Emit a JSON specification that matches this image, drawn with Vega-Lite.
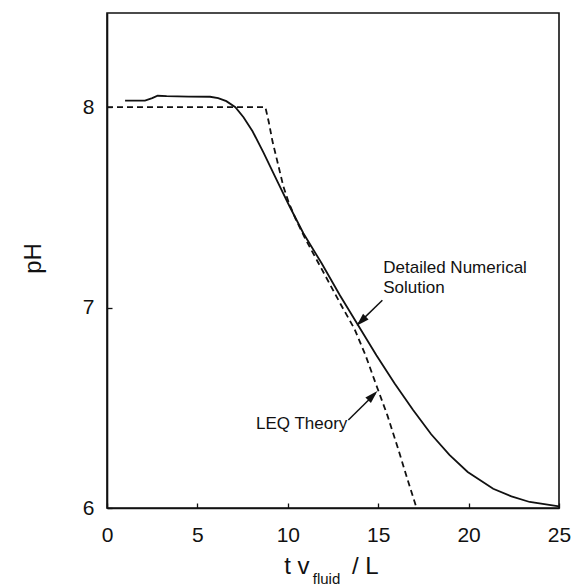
{
  "$schema": "https://vega.github.io/schema/vega-lite/v6.json",
  "width": 452,
  "height": 495,
  "autosize": {"type": "none"},
  "padding": {"left": 107, "top": 13, "right": 15, "bottom": 80},
  "background": "white",
  "config": {
    "view": {"stroke": "#111", "strokeWidth": 1.6},
    "font": "Liberation Sans",
    "axis": {"grid": false, "domainColor": "#111", "domainWidth": 1.6, "tickColor": "#111", "tickWidth": 1.3, "labelColor": "#111", "titleColor": "#111", "labelFont": "Liberation Sans", "titleFont": "Liberation Sans"}
  },
  "datasets": {
    "numerical": [
      {"x": 1.0, "y": 8.033}, {"x": 2.1, "y": 8.033}, {"x": 2.5, "y": 8.045}, {"x": 2.8, "y": 8.057},
      {"x": 3.3, "y": 8.055}, {"x": 4.5, "y": 8.053}, {"x": 5.7, "y": 8.052}, {"x": 6.15, "y": 8.045},
      {"x": 6.6, "y": 8.03}, {"x": 7.1, "y": 8.0}, {"x": 7.55, "y": 7.95}, {"x": 8.05, "y": 7.88},
      {"x": 8.65, "y": 7.775}, {"x": 9.45, "y": 7.625}, {"x": 10.06, "y": 7.512}, {"x": 10.86, "y": 7.371},
      {"x": 11.87, "y": 7.221}, {"x": 12.88, "y": 7.062}, {"x": 13.89, "y": 6.912}, {"x": 14.9, "y": 6.762},
      {"x": 15.91, "y": 6.621}, {"x": 16.92, "y": 6.49}, {"x": 17.93, "y": 6.368}, {"x": 18.94, "y": 6.265},
      {"x": 19.95, "y": 6.18}, {"x": 21.36, "y": 6.096}, {"x": 22.37, "y": 6.058}, {"x": 23.38, "y": 6.03},
      {"x": 25.0, "y": 6.008}
    ],
    "leq": [
      {"x": 0, "y": 8.0}, {"x": 8.76, "y": 8.0}, {"x": 8.95, "y": 7.925}, {"x": 9.15, "y": 7.831},
      {"x": 9.45, "y": 7.719}, {"x": 9.75, "y": 7.606}, {"x": 10.06, "y": 7.522}, {"x": 10.46, "y": 7.437},
      {"x": 10.97, "y": 7.343}, {"x": 11.87, "y": 7.193}, {"x": 12.88, "y": 7.024}, {"x": 13.69, "y": 6.893},
      {"x": 14.3, "y": 6.762}, {"x": 14.9, "y": 6.612}, {"x": 15.51, "y": 6.462}, {"x": 16.11, "y": 6.293},
      {"x": 16.62, "y": 6.143}, {"x": 17.12, "y": 6.0}
    ],
    "labels": [
      {"x": 15.28, "y": 7.172, "text": "Detailed Numerical"},
      {"x": 15.28, "y": 7.072, "text": "Solution"},
      {"x": 8.24, "y": 6.394, "text": "LEQ Theory"}
    ],
    "arrows": [
      {"x": 15.23, "y": 7.037, "x2": 13.9, "y2": 6.92},
      {"x": 13.35, "y": 6.439, "x2": 14.85, "y2": 6.573}
    ],
    "heads": [
      {"x": 14.06, "y": 6.932, "angle": 225},
      {"x": 14.7, "y": 6.561, "angle": 45}
    ],
    "titleMain": [
      {"x": 9.8, "y": 5.671, "text": "t v"},
      {"x": 13.55, "y": 5.671, "text": "/ L"}
    ],
    "titleSub": [
      {"x": 11.38, "y": 5.62, "text": "fluid"}
    ]
  },
  "layer": [
    {
      "data": {"name": "numerical"},
      "mark": {"type": "line", "color": "#111", "strokeWidth": 1.8},
      "encoding": {
        "x": {"field": "x", "type": "quantitative", "scale": {"domain": [0, 25], "nice": false},
              "axis": {"title": null, "values": [0, 5, 10, 15, 20, 25], "format": "d", "labelFontSize": 21, "tickSize": -5, "labelPadding": 21, "labelFlush": false}},
        "y": {"field": "y", "type": "quantitative", "scale": {"domain": [6, 8.47], "nice": false, "zero": false},
              "axis": {"title": "pH", "values": [6, 7, 8], "format": "d", "labelFontSize": 21, "tickSize": -5, "labelPadding": 18, "labelFlush": false,
                       "titleFontSize": 24, "titleFontWeight": "normal", "titleX": -67, "titleY": 245, "titleBaseline": "alphabetic", "titleAngle": -90, "titleAlign": "center"}}
      }
    },
    {
      "data": {"name": "leq"},
      "mark": {"type": "line", "color": "#111", "strokeWidth": 1.8, "strokeDash": [6, 4]},
      "encoding": {
        "x": {"field": "x", "type": "quantitative"},
        "y": {"field": "y", "type": "quantitative"}
      }
    },
    {
      "data": {"name": "labels"},
      "mark": {"type": "text", "align": "left", "baseline": "alphabetic", "fontSize": 17, "color": "#111", "font": "Liberation Sans"},
      "encoding": {
        "x": {"field": "x", "type": "quantitative"},
        "y": {"field": "y", "type": "quantitative"},
        "text": {"field": "text"}
      }
    },
    {
      "data": {"name": "arrows"},
      "mark": {"type": "rule", "color": "#111", "strokeWidth": 1.5},
      "encoding": {
        "x": {"field": "x", "type": "quantitative"},
        "y": {"field": "y", "type": "quantitative"},
        "x2": {"field": "x2"},
        "y2": {"field": "y2"}
      }
    },
    {
      "data": {"name": "heads"},
      "mark": {"type": "point", "shape": "M0,-1L0.6,1L-0.6,1Z", "filled": true, "color": "#111", "size": 170, "opacity": 1},
      "encoding": {
        "x": {"field": "x", "type": "quantitative"},
        "y": {"field": "y", "type": "quantitative"},
        "angle": {"field": "angle", "type": "quantitative", "scale": null}
      }
    },
    {
      "data": {"name": "titleMain"},
      "mark": {"type": "text", "align": "left", "baseline": "alphabetic", "fontSize": 24, "color": "#111", "font": "Liberation Sans"},
      "encoding": {
        "x": {"field": "x", "type": "quantitative"},
        "y": {"field": "y", "type": "quantitative"},
        "text": {"field": "text"}
      }
    },
    {
      "data": {"name": "titleSub"},
      "mark": {"type": "text", "align": "left", "baseline": "alphabetic", "fontSize": 15, "color": "#111", "font": "Liberation Sans"},
      "encoding": {
        "x": {"field": "x", "type": "quantitative"},
        "y": {"field": "y", "type": "quantitative"},
        "text": {"field": "text"}
      }
    }
  ]
}
